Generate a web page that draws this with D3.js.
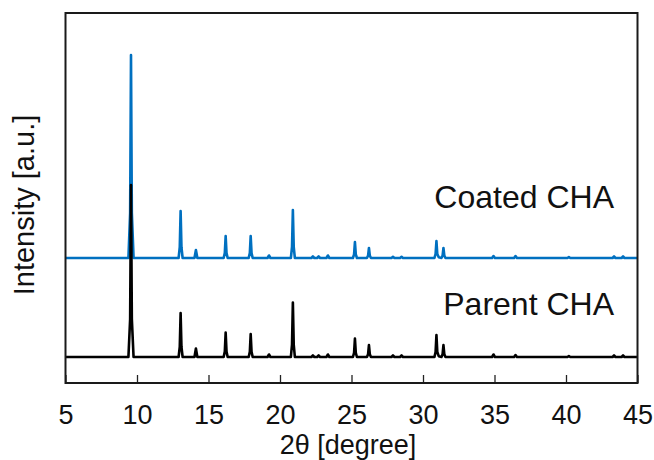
<!DOCTYPE html>
<html>
<head>
<meta charset="utf-8">
<script src="https://cdn.jsdelivr.net/npm/d3@7"></script>
<style>
  html, body { margin: 0; padding: 0; background: #fff; }
  svg { display: block; font-family: "Liberation Sans", Arial, sans-serif; }
</style>
</head>
<body>
<svg id="chart" width="654" height="460"></svg>
<script>
// 2θ positions (degrees) shared by both patterns
const twoTheta = [
  5.0,
  9.40, 9.52, 9.58, 9.64, 9.76,
  12.91, 12.99, 13.05, 13.11, 13.19,
  14.02, 14.12, 14.22,
  16.06, 16.14, 16.2, 16.26, 16.34,
  17.81, 17.89, 17.95, 18.01, 18.09,
  19.13, 19.23, 19.33,
  20.76, 20.84, 20.9, 20.96, 21.04,
  22.2, 22.3, 22.4,
  22.6, 22.7, 22.8,
  23.25, 23.35, 23.45,
  25.10, 25.18, 25.24, 25.30, 25.38,
  26.08, 26.16, 26.22, 26.28, 26.36,
  27.8, 27.9, 28.0,
  28.4, 28.5, 28.6,
  30.80, 30.88, 30.94, 31.0, 31.1,
  31.29, 31.37, 31.43, 31.49, 31.57,
  34.83, 34.93, 35.03,
  36.37, 36.47, 36.57,
  40.1, 40.2, 40.3,
  43.26, 43.36, 43.46,
  43.89, 43.99, 44.09,
  45.0
];
// Parent CHA intensity (a.u.)
const parentI = [
  0,
  0, 380, 1720, 380, 0,
  0, 100, 440, 100, 0,
  0, 85, 0,
  0, 55, 245, 55, 0,
  0, 52, 230, 52, 0,
  0, 25, 0,
  0, 125, 545, 125, 0,
  0, 15, 0,
  0, 15, 0,
  0, 25, 0,
  0, 42, 185, 42, 0,
  0, 28, 120, 28, 0,
  0, 15, 0,
  0, 15, 0,
  0, 50, 220, 50, 8,
  0, 28, 120, 28, 0,
  0, 25, 0,
  0, 20, 0,
  0, 10, 0,
  0, 15, 0,
  0, 15, 0,
  0
];
// Coated CHA intensity (a.u.)
const coatedI = [
  0,
  0, 450, 2030, 450, 0,
  0, 108, 470, 108, 0,
  0, 80, 0,
  0, 50, 220, 50, 0,
  0, 50, 220, 50, 0,
  0, 25, 0,
  0, 110, 480, 110, 0,
  0, 15, 0,
  0, 15, 0,
  0, 25, 0,
  0, 37, 160, 37, 0,
  0, 23, 100, 23, 0,
  0, 12, 0,
  0, 12, 0,
  0, 40, 170, 40, 7,
  0, 23, 100, 23, 0,
  0, 20, 0,
  0, 20, 0,
  0, 10, 0,
  0, 15, 0,
  0, 15, 0,
  0
];
const coatedOffset = 990;
const xTicks = [5, 10, 15, 20, 25, 30, 35, 40, 45];
const seriesNames = ["Coated CHA", "Parent CHA"];
const xTitle = "2θ [degree]";
const yTitle = "Intensity [a.u.]";

const svg = d3.select("#chart");
const L = 65.5, R = 637.5, T = 13, B = 383;

const x = d3.scaleLinear().domain([5, 45]).range([L, R]);
const y = d3.scaleLinear().domain([-260, 3440]).range([B, T]);

const line = d3.line().x(d => x(d[0])).y(d => y(d[1]));

const coatedData = twoTheta.map((t, i) => [t, coatedI[i] + coatedOffset]);
const parentData = twoTheta.map((t, i) => [t, parentI[i]]);

svg.append("clipPath").attr("id", "clip")
  .append("rect").attr("x", L).attr("y", T).attr("width", R - L).attr("height", B - T);

const g = svg.append("g").attr("clip-path", "url(#clip)");
g.append("path").datum(coatedData).attr("d", line)
  .attr("fill", "none").attr("stroke", "#0070C0").attr("stroke-width", 2.6)
  .attr("stroke-linejoin", "round");
g.append("path").datum(parentData).attr("d", line)
  .attr("fill", "none").attr("stroke", "#000").attr("stroke-width", 2.6)
  .attr("stroke-linejoin", "round");

// bottom axis: inward ticks
const xAxis = d3.axisBottom(x).tickValues(xTicks).tickSize(-8).tickPadding(0).tickFormat(d3.format("d"));
const ax = svg.append("g").attr("transform", `translate(0,${B})`).call(xAxis);
ax.select(".domain").remove();
ax.selectAll(".tick line").attr("stroke", "#222").attr("stroke-width", 1.3);
ax.selectAll(".tick text").attr("font-size", 27).attr("fill", "#111")
  .attr("font-family", "'Liberation Sans', Arial, sans-serif")
  .attr("dy", null).attr("y", 41);

// frame
svg.append("rect").attr("x", L).attr("y", T).attr("width", R - L).attr("height", B - T)
  .attr("fill", "none").attr("stroke", "#1a1a1a").attr("stroke-width", 2);

// titles
svg.append("text").attr("x", 348).attr("y", 454).attr("text-anchor", "middle")
  .attr("font-size", 27).attr("fill", "#111").text(xTitle);
svg.append("text").attr("transform", "translate(34,205) rotate(-90)").attr("text-anchor", "middle")
  .attr("font-size", 29).attr("fill", "#111").text(yTitle);

// series labels
svg.append("text").attr("x", 614).attr("y", 208).attr("text-anchor", "end")
  .attr("font-size", 32).attr("fill", "#111").text(seriesNames[0]);
svg.append("text").attr("x", 614).attr("y", 315).attr("text-anchor", "end")
  .attr("font-size", 32).attr("fill", "#111").text(seriesNames[1]);
</script>
</body>
</html>
